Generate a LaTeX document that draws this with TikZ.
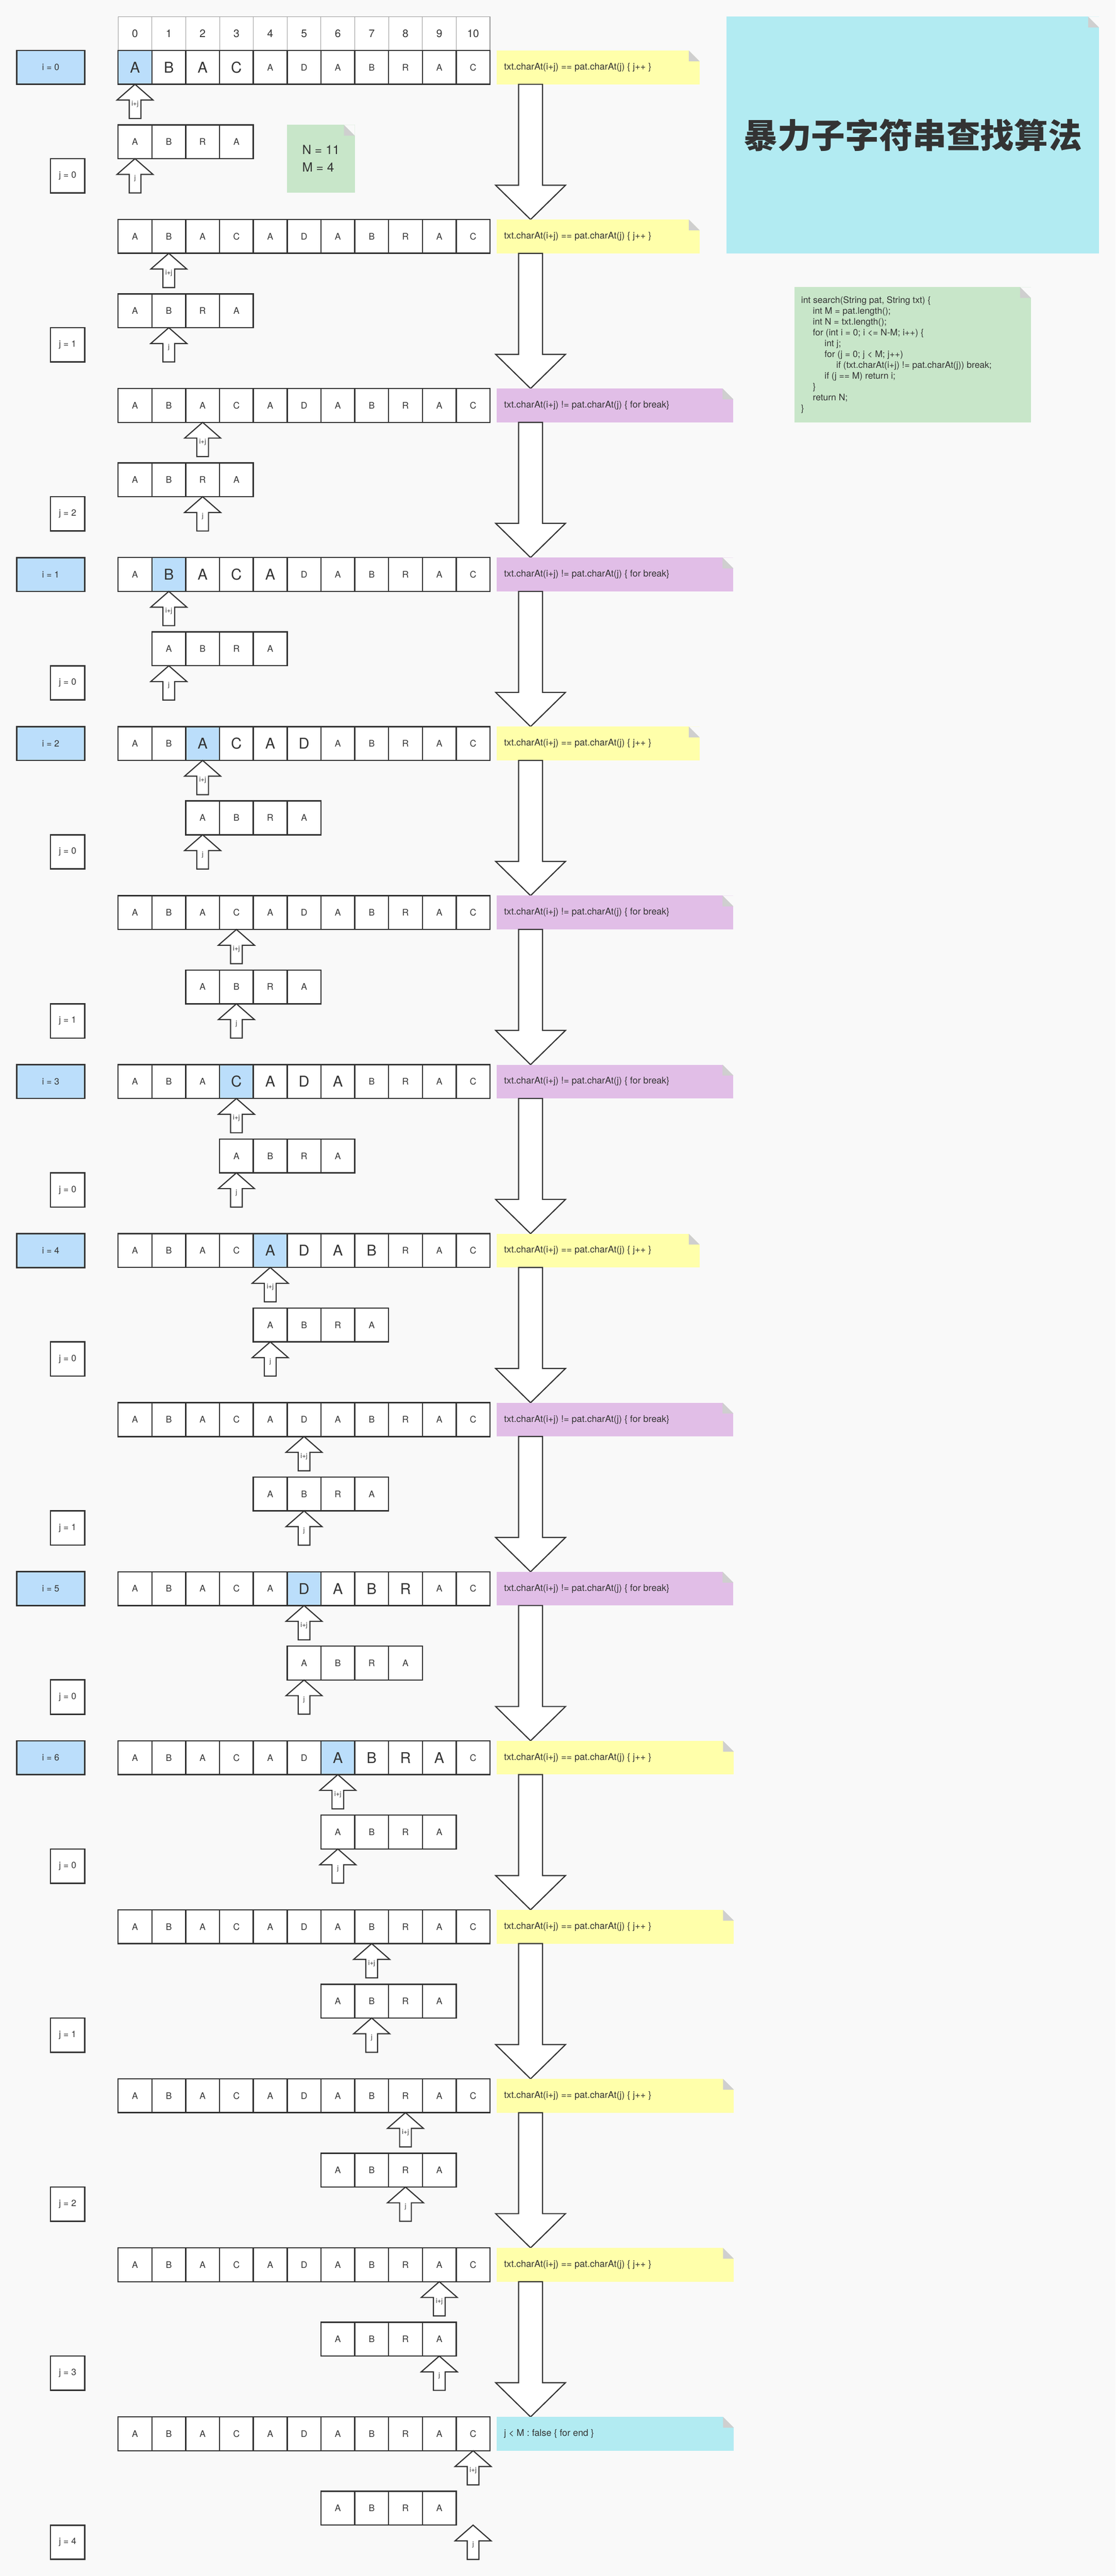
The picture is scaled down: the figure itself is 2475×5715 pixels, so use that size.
\documentclass[tikz,border=0pt]{standalone}
\usepackage{fontspec}
\setmainfont{TeX Gyre Heros}
\newfontfamily\cjkfont{Noto Sans CJK SC}
\usetikzlibrary{calc}
\definecolor{bgc}{HTML}{F9F9F9}
\definecolor{txtc}{HTML}{333333}
\definecolor{linec}{HTML}{333333}
\definecolor{idxc}{HTML}{9A9A9A}
\definecolor{hl}{HTML}{BBDEFB}
\definecolor{noteY}{HTML}{FFFFAA}
\definecolor{noteP}{HTML}{E1BEE7}
\definecolor{noteC}{HTML}{B2EBF2}
\definecolor{greenc}{HTML}{C8E6C9}
\definecolor{foldc}{HTML}{CFCFCF}
\newcommand\fSmall{\fontsize{20}{24}\selectfont}
\newcommand\fBig{\fontsize{33}{38}\selectfont}
\newcommand\fIdx{\fontsize{24}{28}\selectfont}
\newcommand\fLbl{\fontsize{20}{24}\selectfont}
\newcommand\fNote{\fontsize{20.5}{24}\selectfont}
\newcommand\fCode{\fontsize{20}{24}\selectfont}
\newcommand\fNM{\fontsize{28}{39}\selectfont}
\newcommand\fArr{\fontsize{15}{16}\selectfont}
\newcommand\ntxtY{txt.charAt(i+j) == pat.charAt(j) \{ j++ \}}
\newcommand\ntxtP{txt.charAt(i+j) != pat.charAt(j) \{ for break\}}
\newcommand\ntxtC{j < M : false \{ for end \}}
\begin{document}
\begin{tikzpicture}[x=1pt,y=-1pt,
  cell/.style={draw=linec, line width=2.8pt, fill=white, minimum width=75pt, minimum height=75pt, inner sep=0pt, outer sep=0pt, text=txtc},
  idx/.style={draw=idxc, line width=1.2pt, fill=white, minimum width=75pt, minimum height=75pt, inner sep=0pt, outer sep=0pt, text=txtc, font=\fIdx},
  ibox/.style={draw=linec, line width=3pt, fill=hl, minimum width=151pt, minimum height=75pt, inner sep=0pt, outer sep=0pt, text=txtc, font=\fLbl},
  jbox/.style={draw=linec, line width=3pt, fill=white, minimum width=76pt, minimum height=76pt, inner sep=0pt, outer sep=0pt, text=txtc, font=\fLbl},
  notebox/.style={minimum height=75pt, inner sep=0pt, outer sep=0pt, anchor=north west},
  notetext/.style={font=\fNote, text=txtc, inner sep=0pt, anchor=west},
  uparr/.style={draw=linec, line width=2.5pt, fill=white, line join=miter},
  downarr/.style={draw=linec, line width=2.5pt, fill=white, line join=miter},
  arrlbl/.style={font=\fArr, text=txtc, inner sep=0pt}
]
\useasboundingbox (0,0) rectangle (2475,5715);
\fill[bgc] (0,0) rectangle (2475,5715);

% index row
\foreach \d in {0,...,10}{
  \node[idx] (ix\d) at (299.5+75*\d,74.5) {\d};
}

% title note
\node[notebox, fill=noteC, minimum width=826pt, minimum height=525pt] (tbox) at (1612,37) {};
\fill[bgc] (tbox.north east) -- ++(-24,0) -- ++(24,24) -- cycle;
\fill[foldc] ($(tbox.north east)+(-24,0)$) -- ++(0,24) -- ++(24,0) -- cycle;
\node[font=\cjkfont\bfseries\fontsize{75}{80}\selectfont, text=txtc] (title) at (tbox.center) {暴力子字符串查找算法};

% N M note
\node[notebox, fill=greenc, minimum width=150pt, minimum height=150pt] (nm) at (637,277) {};
\fill[bgc] (nm.north east) -- ++(-24,0) -- ++(24,24) -- cycle;
\fill[foldc] ($(nm.north east)+(-24,0)$) -- ++(0,24) -- ++(24,0) -- cycle;
\node[font=\fNM, text=txtc, align=left, inner sep=0pt] (nmtext) at (nm.center) {N = 11\\M = 4};

% code note
\node[notebox, fill=greenc, minimum width=524pt, minimum height=300pt] (codebox) at (1763,637) {};
\fill[bgc] (codebox.north east) -- ++(-24,0) -- ++(24,24) -- cycle;
\fill[foldc] ($(codebox.north east)+(-24,0)$) -- ++(0,24) -- ++(24,0) -- cycle;
\node[font=\fCode, text=txtc, align=left, inner sep=0pt, anchor=west] (code) at (1777,787) {%
int search(String pat, String txt) \{\\
\hspace*{26pt}int M = pat.length();\\
\hspace*{26pt}int N = txt.length();\\
\hspace*{26pt}for (int i = 0; i <= N-M; i++) \{\\
\hspace*{52pt}int j;\\
\hspace*{52pt}for (j = 0; j < M; j++)\\
\hspace*{78pt}if (txt.charAt(i+j) != pat.charAt(j)) break;\\
\hspace*{52pt}if (j == M) return i;\\
\hspace*{26pt}\}\\
\hspace*{26pt}return N;\\
\}};

% steps
\foreach \k/\i/\j/\nt/\nw/\f in {
  0/0/0/Y/450/1, 1/0/1/Y/450/0, 2/0/2/P/525/0, 3/1/0/P/525/1,
  4/2/0/Y/450/1, 5/2/1/P/525/0, 6/3/0/P/525/1, 7/4/0/Y/450/1,
  8/4/1/P/525/0, 9/5/0/P/525/1, 10/6/0/Y/526/1, 11/6/1/Y/526/0,
  12/6/2/Y/526/0, 13/6/3/Y/526/0, 14/6/4/C/526/0}{
  \pgfmathsetmacro\yy{112+375*\k}
  \pgfmathsetmacro\yc{\yy+37.5}
  % text row
  \foreach \ch [count=\cc from 0] in {A,B,A,C,A,D,A,B,R,A,C}{
    \pgfmathtruncatemacro\isbig{(\f==1)&&(\cc>=\i)&&(\cc<=\i+3)}
    \pgfmathtruncatemacro\ishl{(\f==1)&&(\cc==\i)}
    \ifnum\isbig=1 \let\fs\fBig\else\let\fs\fSmall\fi
    \ifnum\ishl=1 \def\fc{hl}\else\def\fc{white}\fi
    \node[cell, fill=\fc, font=\fs] (t\k-\cc) at (299.5+75*\cc,\yc) {\ch};
  }
  % labels
  \ifnum\f=1
    \node[ibox] (ib\k) at (112.5,\yc) {i = \i};
  \fi
  \node[jbox] (jb\k) at (150,\yy+278) {j = \j};
  % pattern row
  \foreach \ch [count=\pc from 0] in {A,B,R,A}{
    \node[cell, font=\fSmall] (p\k-\pc) at (299.5+75*\i+75*\pc,\yy+202.5) {\ch};
  }
  % small arrows
  \pgfmathtruncatemacro\ij{\i+\j}
  \draw[uparr] (t\k-\ij.south) -- ++(40,35) -- ++(-27,0) -- ++(0,41) -- ++(-26,0) -- ++(0,-41) -- ++(-27,0) -- cycle;
  \node[arrlbl] (la\k) at ($(t\k-\ij.south)+(0,44)$) {i+j};
  \coordinate (ja\k) at (t\k-\ij.south |- p\k-0.south);
  \draw[uparr] (ja\k) -- ++(40,35) -- ++(-27,0) -- ++(0,41) -- ++(-26,0) -- ++(0,-41) -- ++(-27,0) -- cycle;
  \node[arrlbl] (lj\k) at ($(ja\k)+(0,44)$) {j};
  % note
  \node[notebox, fill=note\nt, minimum width=\nw pt] (n\k) at (1102,\yy) {};
  \fill[bgc] (n\k.north east) -- ++(-24,0) -- ++(24,24) -- cycle;
  \fill[foldc] ($(n\k.north east)+(-24,0)$) -- ++(0,24) -- ++(24,0) -- cycle;
  \node[notetext] (nt\k) at ($(n\k.west)+(16,0)$) {\csname ntxt\nt\endcsname};
  % big arrow
  \ifnum\k<14
    \draw[downarr] ($(n\k.south west)+(48.5,0)$) -- ++(53,0) -- ++(0,224) -- ++(51,0) -- ++(-77.5,76) -- ++(-77.5,-76) -- ++(51,0) -- cycle;
  \fi
}
\end{tikzpicture}
\end{document}
